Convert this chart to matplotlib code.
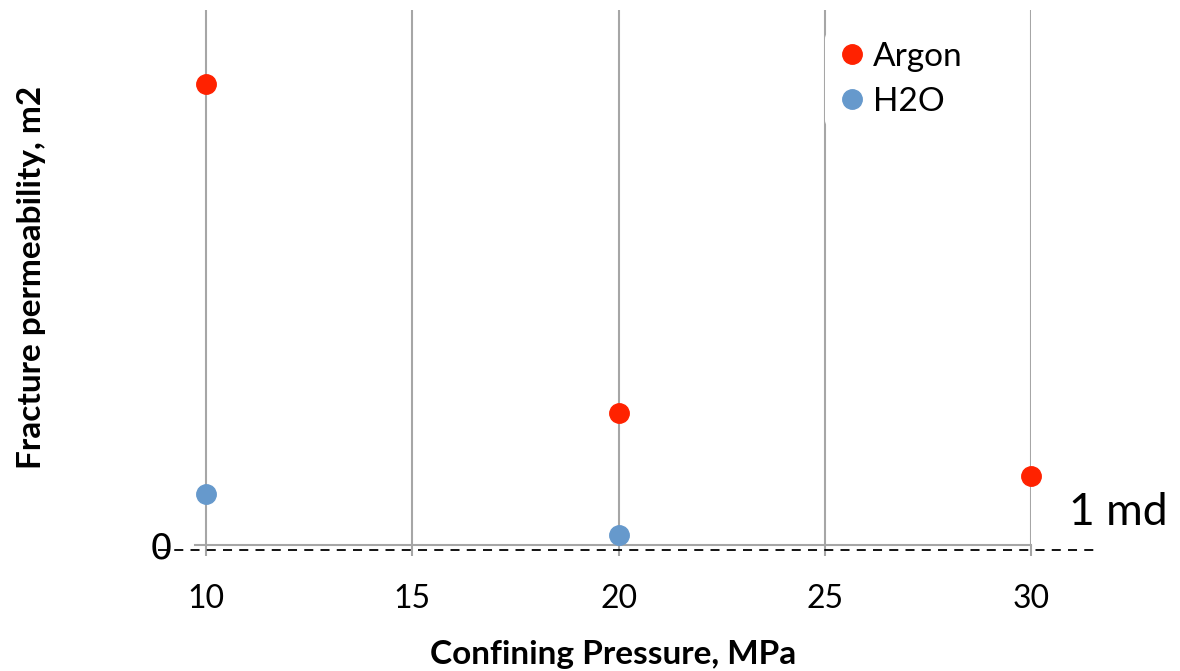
import matplotlib.pyplot as plt

plt.rcParams['font.family'] = ['Lato', 'DejaVu Sans']

# confining pressure (MPa) and permeability (arbitrary linear units)
argon_p = [10, 20, 30]
argon_k = [4.61, 1.32, 0.69]
h2o_p = [10, 20]
h2o_k = [0.51, 0.10]
md_level = -0.05  # 1 md reference line

fig = plt.figure(figsize=(11.8, 6.71), dpi=100)
ax = fig.add_axes([0.165, 0.188, 0.709, 0.797])

ax.set_xlim(9.73, 30)
ax.set_ylim(0, 5.35)

for s in ['left', 'right', 'top']:
    ax.spines[s].set_visible(False)
ax.spines['bottom'].set_color('#a6a6a6')
ax.spines['bottom'].set_linewidth(1.5)

ax.set_xticks([10, 15, 20, 25, 30])
ax.tick_params(axis='x', direction='out', length=8, width=1.5, color='#a6a6a6',
               labelsize=23, pad=20)
ax.set_yticks([0])
ax.set_yticklabels(['0'], family='DejaVu Sans')
ax.tick_params(axis='y', length=0, labelsize=26, pad=16)

ax.grid(axis='x', color='#a6a6a6', linewidth=1.5)
ax.set_axisbelow(True)

ax.plot(argon_p, argon_k, 'o', color='#ff2200', markersize=14, label='Argon',
        clip_on=False, zorder=3)
ax.plot(h2o_p, h2o_k, 'o', color='#6699cc', markersize=14, label='H2O',
        clip_on=False, zorder=3)

ax.plot([8.85, 31.55], [md_level, md_level], '--', color='black', linewidth=1.3,
        dashes=(5, 4), clip_on=False, zorder=4)
ax.text(30.92, 0.12, '1 md', fontsize=32, ha='left', va='bottom')

leg = ax.legend(loc='upper right', bbox_to_anchor=(0.95, 0.99), fontsize=24,
                frameon=True, handletextpad=0.15, handlelength=1.0,
                borderpad=0.3, labelspacing=0.45)
leg.get_frame().set_edgecolor('none')
leg.get_frame().set_facecolor('white')
leg.get_frame().set_alpha(1)

ax.set_xlabel('Confining Pressure, MPa', fontsize=24, fontweight='bold')
ax.set_ylabel('Fracture permeability, m2', fontsize=24, fontweight='bold')
ax.yaxis.set_label_coords(-0.178, 0.5)
ax.xaxis.set_label_coords(0.5, -0.178)

fig.savefig('out.png')
